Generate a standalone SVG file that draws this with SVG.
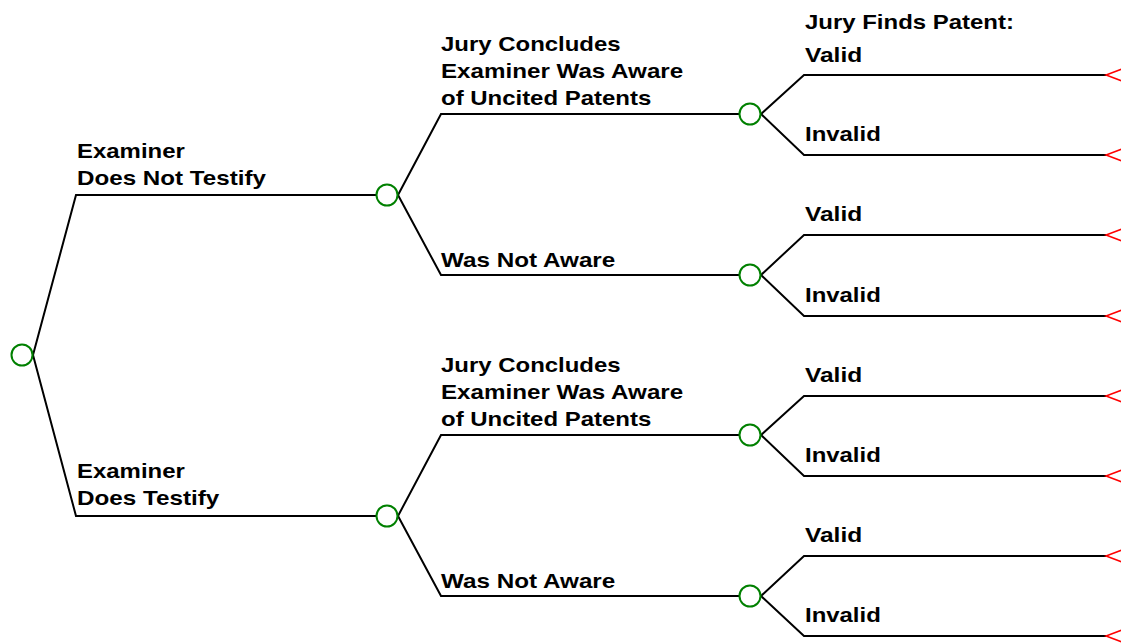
<svg xmlns="http://www.w3.org/2000/svg" width="1121" height="644" viewBox="0 0 1121 644">
  <style>
    .edge { fill: none; stroke: #000; stroke-width: 2; }
    .chance { fill: #fff; stroke: #008000; stroke-width: 2; }
    .term { fill: none; stroke: #ff0000; stroke-width: 1.5; }
    .lbl { font-family: "Liberation Sans", Arial, sans-serif; font-weight: bold; font-size: 21px; fill: #000; }
  </style>
  <rect width="1121" height="644" fill="#fff"/>

  <!-- branches -->
  <g id="connectors">
    <!-- root to testimony branches -->
    <path class="edge" d="M33 355 L76 195 H376"/>
    <path class="edge" d="M33 355 L76 516 H376"/>
    <!-- awareness branches -->
    <path class="edge" d="M398 195 L441 114 H739"/>
    <path class="edge" d="M398 195 L441 275 H739"/>
    <path class="edge" d="M398 516 L441 435 H739"/>
    <path class="edge" d="M398 516 L441 596 H739"/>
    <!-- validity branches -->
    <path class="edge" d="M761 114 L804 75 H1106"/>
    <path class="edge" d="M761 114 L804 155 H1106"/>
    <path class="edge" d="M761 275 L804 235 H1106"/>
    <path class="edge" d="M761 275 L804 316 H1106"/>
    <path class="edge" d="M761 435 L804 396 H1106"/>
    <path class="edge" d="M761 435 L804 476 H1106"/>
    <path class="edge" d="M761 596 L804 556 H1106"/>
    <path class="edge" d="M761 596 L804 636 H1106"/>
  </g>

  <!-- chance nodes -->
  <g id="root"><circle class="chance" cx="22" cy="355" r="10.5"/></g>
  <g id="no-testify"><circle class="chance" cx="387" cy="195" r="10.5"/></g>
  <g id="testify"><circle class="chance" cx="387" cy="516" r="10.5"/></g>
  <g id="nt-aware"><circle class="chance" cx="750" cy="114" r="10.5"/></g>
  <g id="nt-not-aware"><circle class="chance" cx="750" cy="275" r="10.5"/></g>
  <g id="t-aware"><circle class="chance" cx="750" cy="435" r="10.5"/></g>
  <g id="t-not-aware"><circle class="chance" cx="750" cy="596" r="10.5"/></g>

  <!-- terminal nodes -->
  <g id="terminals">
    <path class="term" d="M1122 69 L1106 75 L1122 81"/>
    <path class="term" d="M1122 149 L1106 155 L1122 161"/>
    <path class="term" d="M1122 229 L1106 235 L1122 241"/>
    <path class="term" d="M1122 310 L1106 316 L1122 322"/>
    <path class="term" d="M1122 390 L1106 396 L1122 402"/>
    <path class="term" d="M1122 470 L1106 476 L1122 482"/>
    <path class="term" d="M1122 550 L1106 556 L1122 562"/>
    <path class="term" d="M1122 630 L1106 636 L1122 642"/>
  </g>

  <!-- branch labels -->
  <g id="labels">
    <text class="lbl" x="77" y="158" textLength="107.8" lengthAdjust="spacingAndGlyphs">Examiner</text>
    <text class="lbl" x="77" y="185" textLength="188.9" lengthAdjust="spacingAndGlyphs">Does Not Testify</text>
    <text class="lbl" x="77" y="478" textLength="107.8" lengthAdjust="spacingAndGlyphs">Examiner</text>
    <text class="lbl" x="77" y="505" textLength="142.3" lengthAdjust="spacingAndGlyphs">Does Testify</text>

    <text class="lbl" x="441" y="51" textLength="179.6" lengthAdjust="spacingAndGlyphs">Jury Concludes</text>
    <text class="lbl" x="441" y="78" textLength="242.2" lengthAdjust="spacingAndGlyphs">Examiner Was Aware</text>
    <text class="lbl" x="441" y="105" textLength="210.2" lengthAdjust="spacingAndGlyphs">of Uncited Patents</text>
    <text class="lbl" x="441" y="267" textLength="174.3" lengthAdjust="spacingAndGlyphs">Was Not Aware</text>

    <text class="lbl" x="441" y="372" textLength="179.6" lengthAdjust="spacingAndGlyphs">Jury Concludes</text>
    <text class="lbl" x="441" y="399" textLength="242.2" lengthAdjust="spacingAndGlyphs">Examiner Was Aware</text>
    <text class="lbl" x="441" y="426" textLength="210.2" lengthAdjust="spacingAndGlyphs">of Uncited Patents</text>
    <text class="lbl" x="441" y="588" textLength="174.3" lengthAdjust="spacingAndGlyphs">Was Not Aware</text>

    <text class="lbl" x="805" y="29" textLength="208.9" lengthAdjust="spacingAndGlyphs">Jury Finds Patent:</text>
    <text class="lbl" x="805" y="62" textLength="57.2" lengthAdjust="spacingAndGlyphs">Valid</text>
    <text class="lbl" x="805" y="141" textLength="75.8" lengthAdjust="spacingAndGlyphs">Invalid</text>
    <text class="lbl" x="805" y="221" textLength="57.2" lengthAdjust="spacingAndGlyphs">Valid</text>
    <text class="lbl" x="805" y="302" textLength="75.8" lengthAdjust="spacingAndGlyphs">Invalid</text>
    <text class="lbl" x="805" y="382" textLength="57.2" lengthAdjust="spacingAndGlyphs">Valid</text>
    <text class="lbl" x="805" y="462" textLength="75.8" lengthAdjust="spacingAndGlyphs">Invalid</text>
    <text class="lbl" x="805" y="542" textLength="57.2" lengthAdjust="spacingAndGlyphs">Valid</text>
    <text class="lbl" x="805" y="622" textLength="75.8" lengthAdjust="spacingAndGlyphs">Invalid</text>
  </g>
</svg>
